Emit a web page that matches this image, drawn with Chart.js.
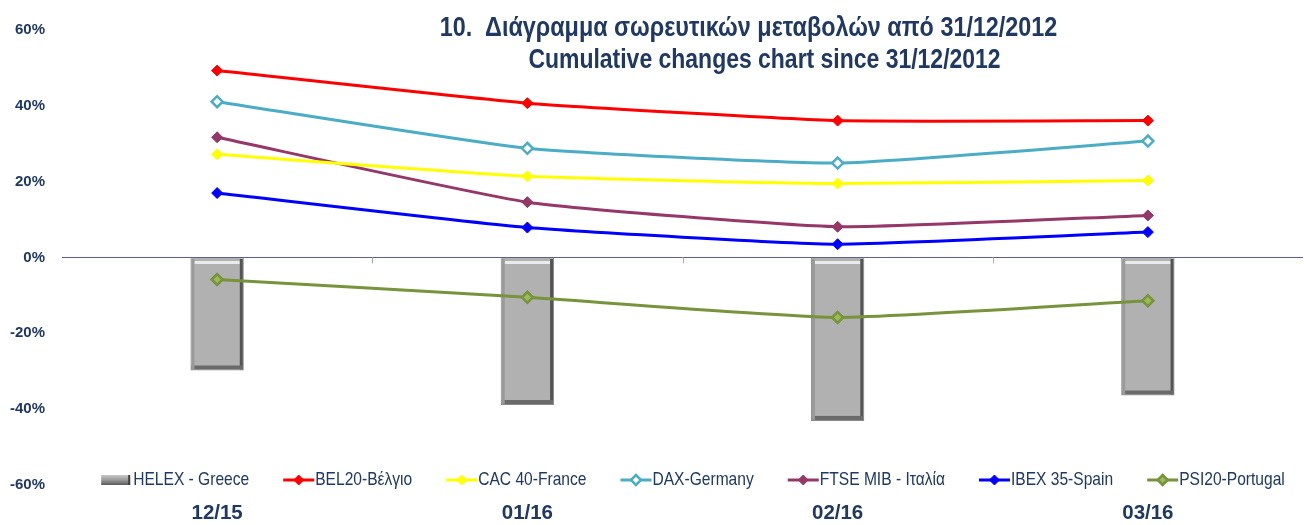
<html>
<head>
<meta charset="utf-8">
<style>
    html, body { margin: 0; padding: 0; overflow: hidden; background: #fff; }
    .wrap { width: 1307px; height: 525px; overflow: hidden; }
</style>
</head>
<body>
<div class="wrap">
    <canvas id="lineChart" width="1311" height="525"></canvas>
</div>
<script src="https://cdn.jsdelivr.net/npm/chart.js"></script>

<script>
    // values, in %
    const months = ['12/15', '01/16', '02/16', '03/16'];
    const helex = [-29.8, -38.9, -43.1, -36.4];
    const bel20 = [49.3, 40.7, 36.1, 36.1];
    const cac40 = [27.2, 21.4, 19.5, 20.3];
    const dax = [41.1, 28.8, 24.9, 30.7];
    const ftse = [31.7, 14.6, 8.1, 11.1];
    const ibex = [17.0, 7.9, 3.5, 6.7];
    const psi20 = [-5.8, -10.5, -15.8, -11.4];
    const yTicks = [-60, -40, -20, 0, 20, 40, 60];

    const titleLines = [
        '10.  Διάγραμμα σωρευτικών μεταβολών από 31/12/2012',
        'Cumulative changes chart since 31/12/2012'
    ];

    // narrow font if there is one, otherwise squeeze a normal one
    function hasFont(name) {
        const c = document.createElement('canvas').getContext('2d');
        c.font = '20px monospace';
        const a = c.measureText('HELEX - Greece 12/15').width;
        c.font = "20px '" + name + "', monospace";
        const b = c.measureText('HELEX - Greece 12/15').width;
        return a !== b;
    }
    let family = "'Liberation Sans', Arial, sans-serif";
    let k = 0.82;
    if (hasFont('Liberation Sans Narrow')) {
        family = "'Liberation Sans Narrow', sans-serif";
        k = 1;
    }
    const navy = '#1F3864';

    function narrowText(ctx, text, x, y, align) {
        const w = ctx.measureText(text).width * k;
        let x0 = x;
        if (align === 'center') x0 = x - w / 2;
        if (align === 'right') x0 = x - w;
        ctx.save();
        ctx.translate(x0, y);
        ctx.scale(k, 1);
        ctx.textAlign = 'left';
        ctx.fillText(text, 0, 0);
        ctx.restore();
        return w;
    }

    function lineSet(label, data, color, hollow) {
        return {
            type: 'line',
            label: label,
            data: data,
            borderColor: color,
            backgroundColor: color,
            borderWidth: 3,
            pointStyle: 'rectRot',
            pointRadius: 5.5,
            pointBorderWidth: hollow ? 2.5 : 1,
            pointBackgroundColor: hollow ? '#ffffff' : color,
            pointBorderColor: color,
            tension: 0.15,
            order: 1
        };
    }

    const psiSet = lineSet('PSI20-Portugal', psi20, '#77933C', false);
    psiSet.pointBackgroundColor = '#9BBB59';
    psiSet.pointBorderWidth = 2.5;

    const data = {
        labels: months,
        datasets: [
            {
                type: 'bar',
                label: 'HELEX - Greece',
                data: helex,
                backgroundColor: '#B1B1B1',
                borderColor: '#8A8A8A',
                borderWidth: 1,
                barPercentage: 0.172,
                categoryPercentage: 1,
                order: 2
            },
            lineSet('BEL20-Βέλγιο', bel20, '#FF0000', false),
            lineSet('CAC 40-France', cac40, '#FFFF00', false),
            lineSet('DAX-Germany', dax, '#4BACC6', true),
            lineSet('FTSE MIB - Ιταλία', ftse, '#953768', false),
            lineSet('IBEX 35-Spain', ibex, '#0000FF', false),
            psiSet
        ]
    };

    // bevel on the grey bars and the small category ticks on the zero line
    const bevel = {
        id: 'bevel',
        beforeDatasetsDraw(chart) {
            const x = chart.scales.x, y = chart.scales.y;
            const y0 = y.getPixelForValue(0);
            const ctx = chart.ctx;
            ctx.save();
            ctx.strokeStyle = '#A9A9C9';
            ctx.lineWidth = 1;
            for (let i = 1; i < months.length; i++) {
                const px = Math.round((x.getPixelForValue(i - 1) + x.getPixelForValue(i)) / 2) + 0.5;
                ctx.beginPath();
                ctx.moveTo(px, y0);
                ctx.lineTo(px, y0 + 6);
                ctx.stroke();
            }
            ctx.restore();
        },
        afterDatasetDraw(chart, args) {
            if (args.index !== 0) return;
            const ctx = chart.ctx;
            args.meta.data.forEach(bar => {
                const l = bar.x - bar.width / 2, r = bar.x + bar.width / 2;
                const t = Math.min(bar.y, bar.base), b = Math.max(bar.y, bar.base);
                ctx.save();
                ctx.fillStyle = 'rgba(255,255,255,0.75)';
                ctx.fillRect(l + 4, t + 3, r - l - 8, 3);
                ctx.fillStyle = '#555555';
                ctx.fillRect(r - 4, t + 1, 3, b - t - 2);
                ctx.fillStyle = '#6A6A6A';
                ctx.fillRect(l + 1, b - 5, r - l - 2, 4);
                ctx.fillStyle = '#9A9A9A';
                ctx.fillRect(l + 1, t + 1, 3, b - t - 2);
                ctx.restore();
            });
        }
    };

    // title and legend drawn over the plot, as in the original
    const overlay = {
        id: 'overlay',
        afterDraw(chart) {
            const ctx = chart.ctx;
            const area = chart.chartArea;
            const mid = (area.left + area.right) / 2;
            ctx.save();
            ctx.fillStyle = navy;
            ctx.textBaseline = 'middle';
            ctx.font = 'bold 28.5px ' + family;
            narrowText(ctx, titleLines[0], mid + 66, 28, 'center');
            ctx.font = 'bold 28px ' + family;
            narrowText(ctx, titleLines[1], mid + 82, 60, 'center');

            ctx.font = '19px ' + family;
            const sym = 31, gap = 35;
            const items = chart.data.datasets.map(ds => ({ ds: ds, w: ctx.measureText(ds.label).width * k }));
            let total = 0;
            items.forEach(it => total += sym + it.w);
            total += gap * (items.length - 1);
            let x = mid - total / 2 + 10;
            const y = area.bottom - 5;
            items.forEach(it => {
                const ds = it.ds;
                if (ds.type === 'bar') {
                    const g = ctx.createLinearGradient(0, y - 5, 0, y + 5);
                    g.addColorStop(0, '#C8C8C8');
                    g.addColorStop(0.5, '#9A9A9A');
                    g.addColorStop(1, '#5A5A5A');
                    ctx.fillStyle = g;
                    ctx.fillRect(x, y - 5, sym - 2, 10);
                    ctx.fillStyle = '#404040';
                    ctx.fillRect(x + sym - 4, y - 5, 2, 10);
                } else {
                    ctx.strokeStyle = ds.borderColor;
                    ctx.lineWidth = 3;
                    ctx.beginPath();
                    ctx.moveTo(x, y);
                    ctx.lineTo(x + sym, y);
                    ctx.stroke();
                    ctx.beginPath();
                    ctx.moveTo(x + sym / 2, y - 5);
                    ctx.lineTo(x + sym / 2 + 5, y);
                    ctx.lineTo(x + sym / 2, y + 5);
                    ctx.lineTo(x + sym / 2 - 5, y);
                    ctx.closePath();
                    ctx.fillStyle = ds.pointBackgroundColor;
                    ctx.fill();
                    ctx.lineWidth = ds.pointBorderWidth;
                    ctx.stroke();
                }
                ctx.fillStyle = navy;
                narrowText(ctx, ds.label, x + sym + 1, y, 'left');
                x += sym + it.w + gap;
            });
            ctx.restore();
        }
    };

    const config = {
        type: 'bar',
        data: data,
        options: {
            responsive: false,
            animation: false,
            layout: { padding: { top: 30, left: 0, right: 0, bottom: 0 } },
            plugins: {
                legend: { display: false },
                tooltip: { enabled: false }
            },
            scales: {
                x: {
                    grid: { display: false },
                    border: { display: false },
                    ticks: {
                        color: navy,
                        padding: 8,
                        font: { family: family, size: 25 * k, weight: 'bold' }
                    },
                    afterFit: s => { s.height = 40; }
                },
                y: {
                    min: -60,
                    max: 60,
                    afterBuildTicks: s => { s.ticks = yTicks.map(v => ({ value: v })); },
                    grid: {
                        drawTicks: false,
                        color: c => c.tick && c.tick.value === 0 ? '#5F5C9C' : 'rgba(0,0,0,0)',
                        lineWidth: 1
                    },
                    border: { display: false },
                    ticks: {
                        color: navy,
                        padding: 17,
                        font: { family: family, size: 15, weight: 'bold' },
                        callback: v => v + '%'
                    },
                    afterFit: s => { s.width = 62; }
                }
            }
        },
        plugins: [bevel, overlay]
    };

    const lineChart = new Chart(document.getElementById('lineChart').getContext('2d'), config);
</script>
</body>
</html>
